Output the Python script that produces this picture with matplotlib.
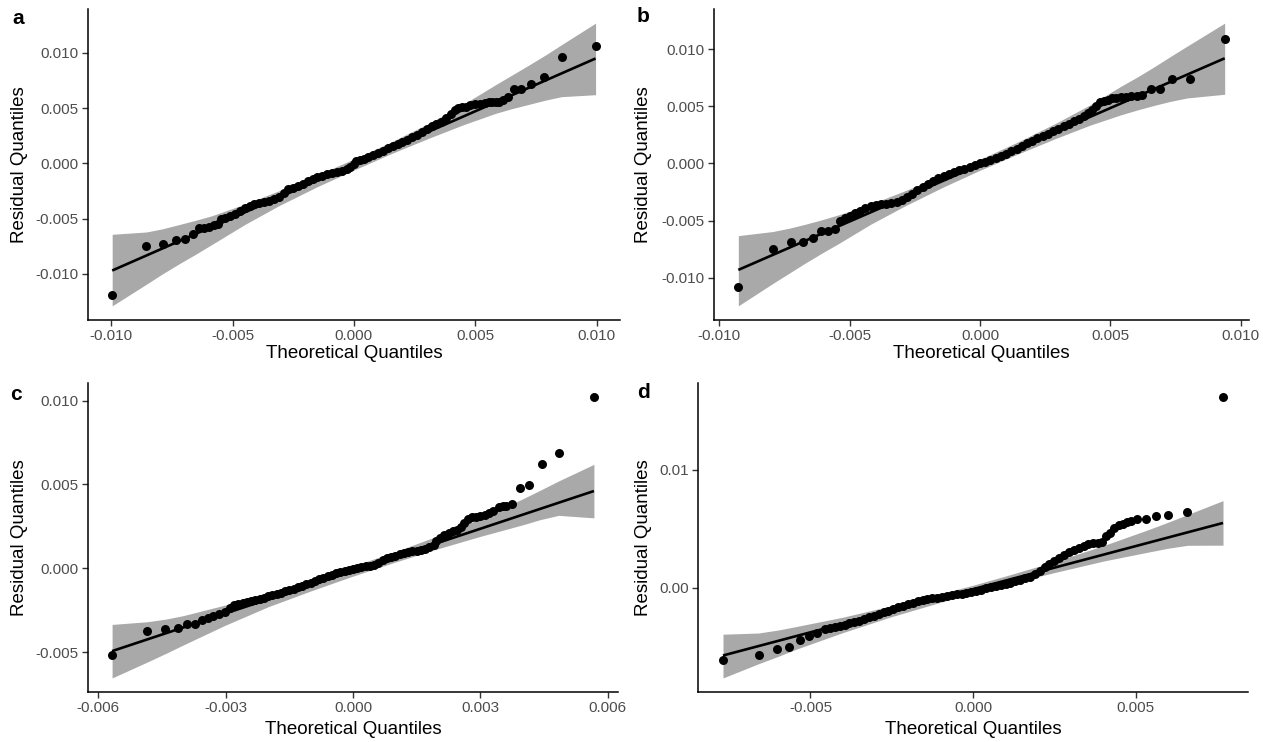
import numpy as np
import matplotlib
matplotlib.use("Agg")
import matplotlib.pyplot as plt

plt.rcParams['font.family'] = ['Liberation Sans', 'DejaVu Sans']

# All values below are in units of 1e-3
# ---------------- panel a ----------------
a_x = [-9.96, -8.57, -7.86, -7.35, -6.94, -6.65, -6.38, -6.17, -5.97, -5.77, -5.59, -5.46,
       -5.3, -5.1, -4.9, -4.7, -4.5, -4.3, -4.1, -3.9, -3.7, -3.5, -3.3, -3.1, -2.9, -2.7,
       -2.5, -2.3, -2.1, -1.9, -1.7, -1.5, -1.3, -1.1, -0.9, -0.7, -0.5, -0.3,
       -0.15, 0.0, 0.1, 0.25, 0.4,
       0.6, 0.8, 1.0, 1.2, 1.4, 1.6, 1.8, 2.0, 2.2, 2.4, 2.6, 2.8, 3.0, 3.2, 3.4, 3.6, 3.8, 4.0,
       4.15, 4.3, 4.45, 4.6, 4.8, 5.0, 5.2, 5.4, 5.55, 5.7, 5.85, 6.0, 6.15, 6.35,
       6.59, 6.87, 7.31, 7.82, 8.56, 9.97]
a_y = [-11.94, -7.48, -7.33, -6.97, -6.88, -6.36, -5.88, -5.82, -5.76, -5.61, -5.45, -5.06,
       -4.95, -4.78, -4.6, -4.34, -4.08, -3.86, -3.69, -3.56, -3.49, -3.36, -3.18, -3.0, -2.66, -2.36,
       -2.2, -2.03, -1.83, -1.59, -1.37, -1.25, -1.12, -1.0, -0.9, -0.8, -0.7, -0.53,
       -0.37, -0.1, 0.2, 0.3, 0.41,
       0.55, 0.72, 0.9, 1.15, 1.39, 1.59, 1.77, 1.95, 2.15, 2.36, 2.58, 2.8, 3.13, 3.39, 3.57, 3.75, 4.12, 4.5,
       4.8, 4.98, 5.12, 5.15, 5.25, 5.35, 5.42, 5.5, 5.53, 5.55, 5.57, 5.6, 5.7, 6.0,
       6.72, 6.78, 7.17, 7.78, 9.64, 10.61]
a_band_x = [-9.96, -8.55, -7.9, -7.2, -6.5, -5.85, -4.5, -3.1, -1.5, 0, 1.5, 3.1, 4.5, 5.85, 6.5, 7.2, 7.9, 8.55, 9.96]
a_band_hi = [-6.42, -6.21, -5.93, -5.54, -5.14, -4.74, -3.69, -2.49, -1.05, 0.4, 1.9, 3.64, 5.34, 7.14, 7.98, 8.89, 9.82, 10.74, 12.70]
a_band_lo = [-12.9, -10.94, -10.02, -9.09, -8.2, -7.34, -5.54, -3.84, -2.1, -0.6, 0.85, 2.29, 3.49, 4.54, 4.95, 5.34, 5.73, 6.04, 6.22]
a_line_x = [-9.96, 9.96]
a_line_y = [-9.7, 9.5]

# ---------------- panel b ----------------
b_x = [-9.27, -7.93, -7.25, -6.80, -6.41, -6.09, -5.83, -5.57, -5.38, -5.18,
       -5.0, -4.8, -4.6, -4.4, -4.2, -4.0, -3.8, -3.6, -3.4, -3.2, -3.0, -2.8, -2.6, -2.4, -2.2,
       -2.0, -1.8, -1.6, -1.4, -1.2, -1.0, -0.8, -0.6, -0.4, -0.2, 0.0, 0.2, 0.4, 0.6, 0.8,
       1.0, 1.2, 1.4, 1.6, 1.8, 2.0, 2.2, 2.4, 2.6, 2.8, 3.0, 3.2, 3.4, 3.6, 3.8, 4.0,
       4.15, 4.3, 4.45, 4.6, 4.75, 4.9, 5.05, 5.2, 5.4, 5.6, 5.8, 6.0, 6.22,
       6.54, 6.90, 7.36, 8.05, 9.38]
b_y = [-10.85, -7.47, -6.86, -6.86, -6.57, -5.93, -5.87, -5.70, -5.06, -4.77,
       -4.59, -4.38, -4.13, -3.9, -3.71, -3.63, -3.59, -3.55, -3.45, -3.35, -3.18, -2.94, -2.65, -2.35, -2.07,
       -1.79, -1.51, -1.26, -1.09, -0.93, -0.76, -0.6, -0.455, -0.305, -0.155, 0.0, 0.15, 0.3, 0.45, 0.64,
       0.86, 1.08, 1.3, 1.53, 1.76, 2.0, 2.23, 2.43, 2.62, 2.81, 3.0, 3.25, 3.45, 3.68, 3.9, 4.2,
       4.42, 4.68, 5.06, 5.4, 5.48, 5.6, 5.7, 5.76, 5.8, 5.84, 5.9, 5.95, 5.98,
       6.5, 6.5, 7.41, 7.41, 10.94]
b_band_x = [-9.27, -7.95, -7.3, -6.7, -6.05, -5.4, -4.2, -2.9, -1.4, 0, 1.4, 2.9, 4.2, 5.4, 6.05, 6.7, 7.3, 7.95, 9.38]
b_band_hi = [-6.32, -5.96, -5.66, -5.32, -4.92, -4.48, -3.56, -2.41, -1.0, 0.37, 1.83, 3.52, 5.11, 6.76, 7.6, 8.5, 9.37, 10.29, 12.29]
b_band_lo = [-12.47, -10.51, -9.58, -8.72, -7.83, -6.98, -5.33, -3.74, -2.05, -0.59, 0.78, 2.19, 3.34, 4.26, 4.7, 5.1, 5.44, 5.74, 6.06]
b_line_x = [-9.27, 9.38]
b_line_y = [-9.32, 9.21]

# ---------------- panel c ----------------
c_x = [-5.67, -4.84, -4.42, -4.13, -3.91, -3.73, -3.55, -3.41, -3.29, -3.15, -3.02,
       -2.9, -2.8, -2.7, -2.6, -2.5, -2.4, -2.3, -2.2, -2.1, -2.0, -1.9, -1.8, -1.7, -1.6, -1.5,
       -1.4, -1.3, -1.2, -1.1, -1.0, -0.9, -0.8, -0.7, -0.6, -0.5, -0.4, -0.3, -0.2, -0.1, 0.0,
       0.1, 0.2, 0.3, 0.4, 0.5, 0.6, 0.7, 0.8, 0.9, 1.0, 1.1, 1.2, 1.3, 1.4, 1.5, 1.6, 1.7, 1.8, 1.9,
       1.95, 2.05, 2.15, 2.25, 2.35, 2.45, 2.55, 2.62, 2.7,
       2.8, 2.9, 3.0, 3.1, 3.2, 3.3, 3.43, 3.52, 3.6, 3.74,
       3.93, 4.15, 4.44, 4.86, 5.67]
c_y = [-5.15, -3.74, -3.60, -3.54, -3.3, -3.3, -3.08, -2.94, -2.84, -2.74, -2.60,
       -2.38, -2.2, -2.11, -2.05, -1.98, -1.92, -1.86, -1.80, -1.74, -1.67, -1.60, -1.52, -1.45, -1.37, -1.29,
       -1.21, -1.12, -1.04, -0.96, -0.86, -0.76, -0.65, -0.55, -0.45, -0.38, -0.30, -0.23, -0.15, -0.09, -0.04,
       0.02, 0.07, 0.12, 0.17, 0.22, 0.33, 0.47, 0.61, 0.70, 0.76, 0.83, 0.90, 0.97, 1.01, 1.05, 1.10, 1.15, 1.25, 1.42,
       1.65, 1.84, 1.98, 2.12, 2.2, 2.28, 2.48, 2.7, 2.92,
       3.04, 3.08, 3.11, 3.2, 3.31, 3.41, 3.68, 3.70, 3.72, 3.81,
       4.77, 4.97, 6.20, 6.85, 10.21]
c_band_x = [-5.67, -4.84, -4.4, -4.0, -3.0, -2.0, -1.0, 0, 1.0, 2.0, 3.0, 4.0, 4.4, 4.84, 5.67]
c_band_hi = [-3.34, -3.18, -3.02, -2.82, -2.18, -1.46, -0.68, 0.14, 1.0, 1.94, 2.96, 4.15, 4.65, 5.21, 6.20]
c_band_lo = [-6.53, -5.58, -5.06, -4.57, -3.38, -2.29, -1.35, -0.46, 0.38, 1.17, 1.91, 2.6, 2.9, 3.16, 3.01]
c_line_x = [-5.67, 5.67]
c_line_y = [-4.93, 4.61]

# ---------------- panel d ----------------
d_x = [-7.69, -6.59, -6.04, -5.65, -5.33, -5.06, -4.81, -4.55,
       -4.4, -4.25, -4.1, -3.95, -3.8, -3.65, -3.5, -3.35, -3.2, -3.05,
       -2.9, -2.75, -2.6, -2.45, -2.3, -2.15, -2.0, -1.85, -1.7, -1.55,
       -1.4, -1.25, -1.1, -0.95, -0.8, -0.65, -0.5, -0.35, -0.2, -0.05,
       0.1, 0.25, 0.4, 0.55, 0.7, 0.85, 1.0, 1.15, 1.3, 1.45,
       1.6, 1.75, 1.9, 2.05, 2.2, 2.35, 2.5, 2.65, 2.8, 2.95,
       3.1, 3.25, 3.4, 3.55, 3.7, 3.85,
       3.98, 4.1, 4.2, 4.35, 4.5, 4.6, 4.73, 4.86, 5.04,
       5.33, 5.63, 6.01, 6.59, 7.69]
d_y = [-6.11, -5.72, -5.21, -4.99, -4.42, -4.08, -3.80, -3.52,
       -3.42, -3.32, -3.21, -3.11, -3.0, -2.89, -2.77, -2.63, -2.48, -2.34,
       -2.2, -2.07, -1.93, -1.8, -1.66, -1.52, -1.38, -1.24, -1.13, -1.05,
       -0.97, -0.89, -0.82, -0.75, -0.68, -0.61, -0.54, -0.48, -0.41, -0.35,
       -0.27, -0.16, -0.04, 0.07, 0.19, 0.27, 0.36, 0.45, 0.54, 0.67,
       0.81, 0.95, 1.16, 1.45, 1.74, 2.02, 2.30, 2.54, 2.79, 3.01,
       3.22, 3.41, 3.56, 3.70, 3.78, 3.82,
       3.86, 4.37, 4.65, 5.07, 5.29, 5.44, 5.53, 5.63, 5.83,
       5.85, 6.06, 6.20, 6.45, 16.14]
d_band_x = [-7.69, -6.6, -6.0, -5.4, -4.0, -2.5, -1.0, 0, 1.0, 2.5, 4.0, 5.4, 6.0, 6.6, 7.69]
d_band_hi = [-3.92, -3.82, -3.57, -3.25, -2.48, -1.51, -0.49, 0.22, 1.0, 2.21, 3.56, 4.93, 5.55, 6.2, 7.38]
d_band_lo = [-7.62, -6.42, -5.8, -5.15, -3.78, -2.43, -1.22, -0.44, 0.27, 1.29, 2.26, 3.03, 3.35, 3.6, 3.61]
d_line_x = [-7.69, 7.69]
d_line_y = [-5.72, 5.49]

# tick values (real units)
ab_ticks = [-0.010, -0.005, 0.0, 0.005, 0.010]
c_xticks = [-0.006, -0.003, 0.0, 0.003, 0.006]
c_yticks = [-0.005, 0.0, 0.005, 0.010]
d_xticks = [-0.005, 0.0, 0.005]
d_yticks = [0.0, 0.01]

UNIT = 1e-3
W, H = 1263, 742
fig = plt.figure(figsize=(W / 100, H / 100), dpi=100)


def rect(l, r, t, b):
    return [l / W, 1 - b / H, (r - l) / W, (b - t) / H]


panels = [
    dict(letter='a', box=(88, 620, 9, 320), x=a_x, y=a_y, bx=a_band_x, blo=a_band_lo, bhi=a_band_hi,
         lx=a_line_x, ly=a_line_y, xt=ab_ticks, yt=ab_ticks, xf='{:.3f}', yf='{:.3f}',
         lpos=(18, 19), ylx=20, xly=354),
    dict(letter='b', box=(714, 1249, 9, 320), x=b_x, y=b_y, bx=b_band_x, blo=b_band_lo, bhi=b_band_hi,
         lx=b_line_x, ly=b_line_y, xt=ab_ticks, yt=ab_ticks, xf='{:.3f}', yf='{:.3f}',
         lpos=(643, 17), ylx=644, xly=354),
    dict(letter='c', box=(88, 618, 383, 692), x=c_x, y=c_y, bx=c_band_x, blo=c_band_lo, bhi=c_band_hi,
         lx=c_line_x, ly=c_line_y, xt=c_xticks, yt=c_yticks, xf='{:.3f}', yf='{:.3f}',
         lpos=(16, 395), ylx=20, xly=730),
    dict(letter='d', box=(698, 1248, 383, 692), x=d_x, y=d_y, bx=d_band_x, blo=d_band_lo, bhi=d_band_hi,
         lx=d_line_x, ly=d_line_y, xt=d_xticks, yt=d_yticks, xf='{:.3f}', yf='{:.2f}',
         lpos=(643, 393), ylx=644, xly=730),
]

for p in panels:
    l, r, t, b = p['box']
    ax = fig.add_axes(rect(l, r, t, b))
    x = np.array(p['x']) * UNIT
    y = np.array(p['y']) * UNIT
    bx = np.array(p['bx']) * UNIT
    blo = np.array(p['blo']) * UNIT
    bhi = np.array(p['bhi']) * UNIT
    ax.fill_between(bx, blo, bhi, color='#A9A9A9', lw=0, zorder=1)
    ax.plot(np.array(p['lx']) * UNIT, np.array(p['ly']) * UNIT, color='black', lw=1.9,
            zorder=2, solid_capstyle='butt')
    ax.scatter(x, y, s=42, color='black', lw=0, zorder=3, clip_on=False)

    xs = np.concatenate([x, bx])
    ys = np.concatenate([y, blo, bhi])
    xr = xs.max() - xs.min()
    yr = ys.max() - ys.min()
    ax.set_xlim(xs.min() - 0.05 * xr, xs.max() + 0.05 * xr)
    ax.set_ylim(ys.min() - 0.05 * yr, ys.max() + 0.05 * yr)

    ax.set_xticks(p['xt'])
    ax.set_xticklabels([p['xf'].format(v) for v in p['xt']])
    ax.set_yticks(p['yt'])
    ax.set_yticklabels([p['yf'].format(v) for v in p['yt']])

    for s in ['top', 'right']:
        ax.spines[s].set_visible(False)
    for s in ['left', 'bottom']:
        ax.spines[s].set_linewidth(1.1)
        ax.spines[s].set_color('black')
    ax.tick_params(direction='out', length=4, width=1.0, color='#333333',
                   labelsize=11, labelcolor='#4D4D4D', pad=2.5)
    ax.set_facecolor('white')

    fig.text(p['ylx'] / W, 1 - ((t + b) / 2) / H, 'Residual Quantiles', rotation=90,
             ha='center', va='center', fontsize=13.5, color='black')
    fig.text(((l + r) / 2) / W, 1 - p['xly'] / H, 'Theoretical Quantiles',
             ha='center', va='center', fontsize=13.5, color='black')
    fig.text(p['lpos'][0] / W, 1 - p['lpos'][1] / H, p['letter'], ha='center', va='center',
             fontsize=15, fontweight='bold', color='black')

fig.savefig('out.png', dpi=100, facecolor='white')
